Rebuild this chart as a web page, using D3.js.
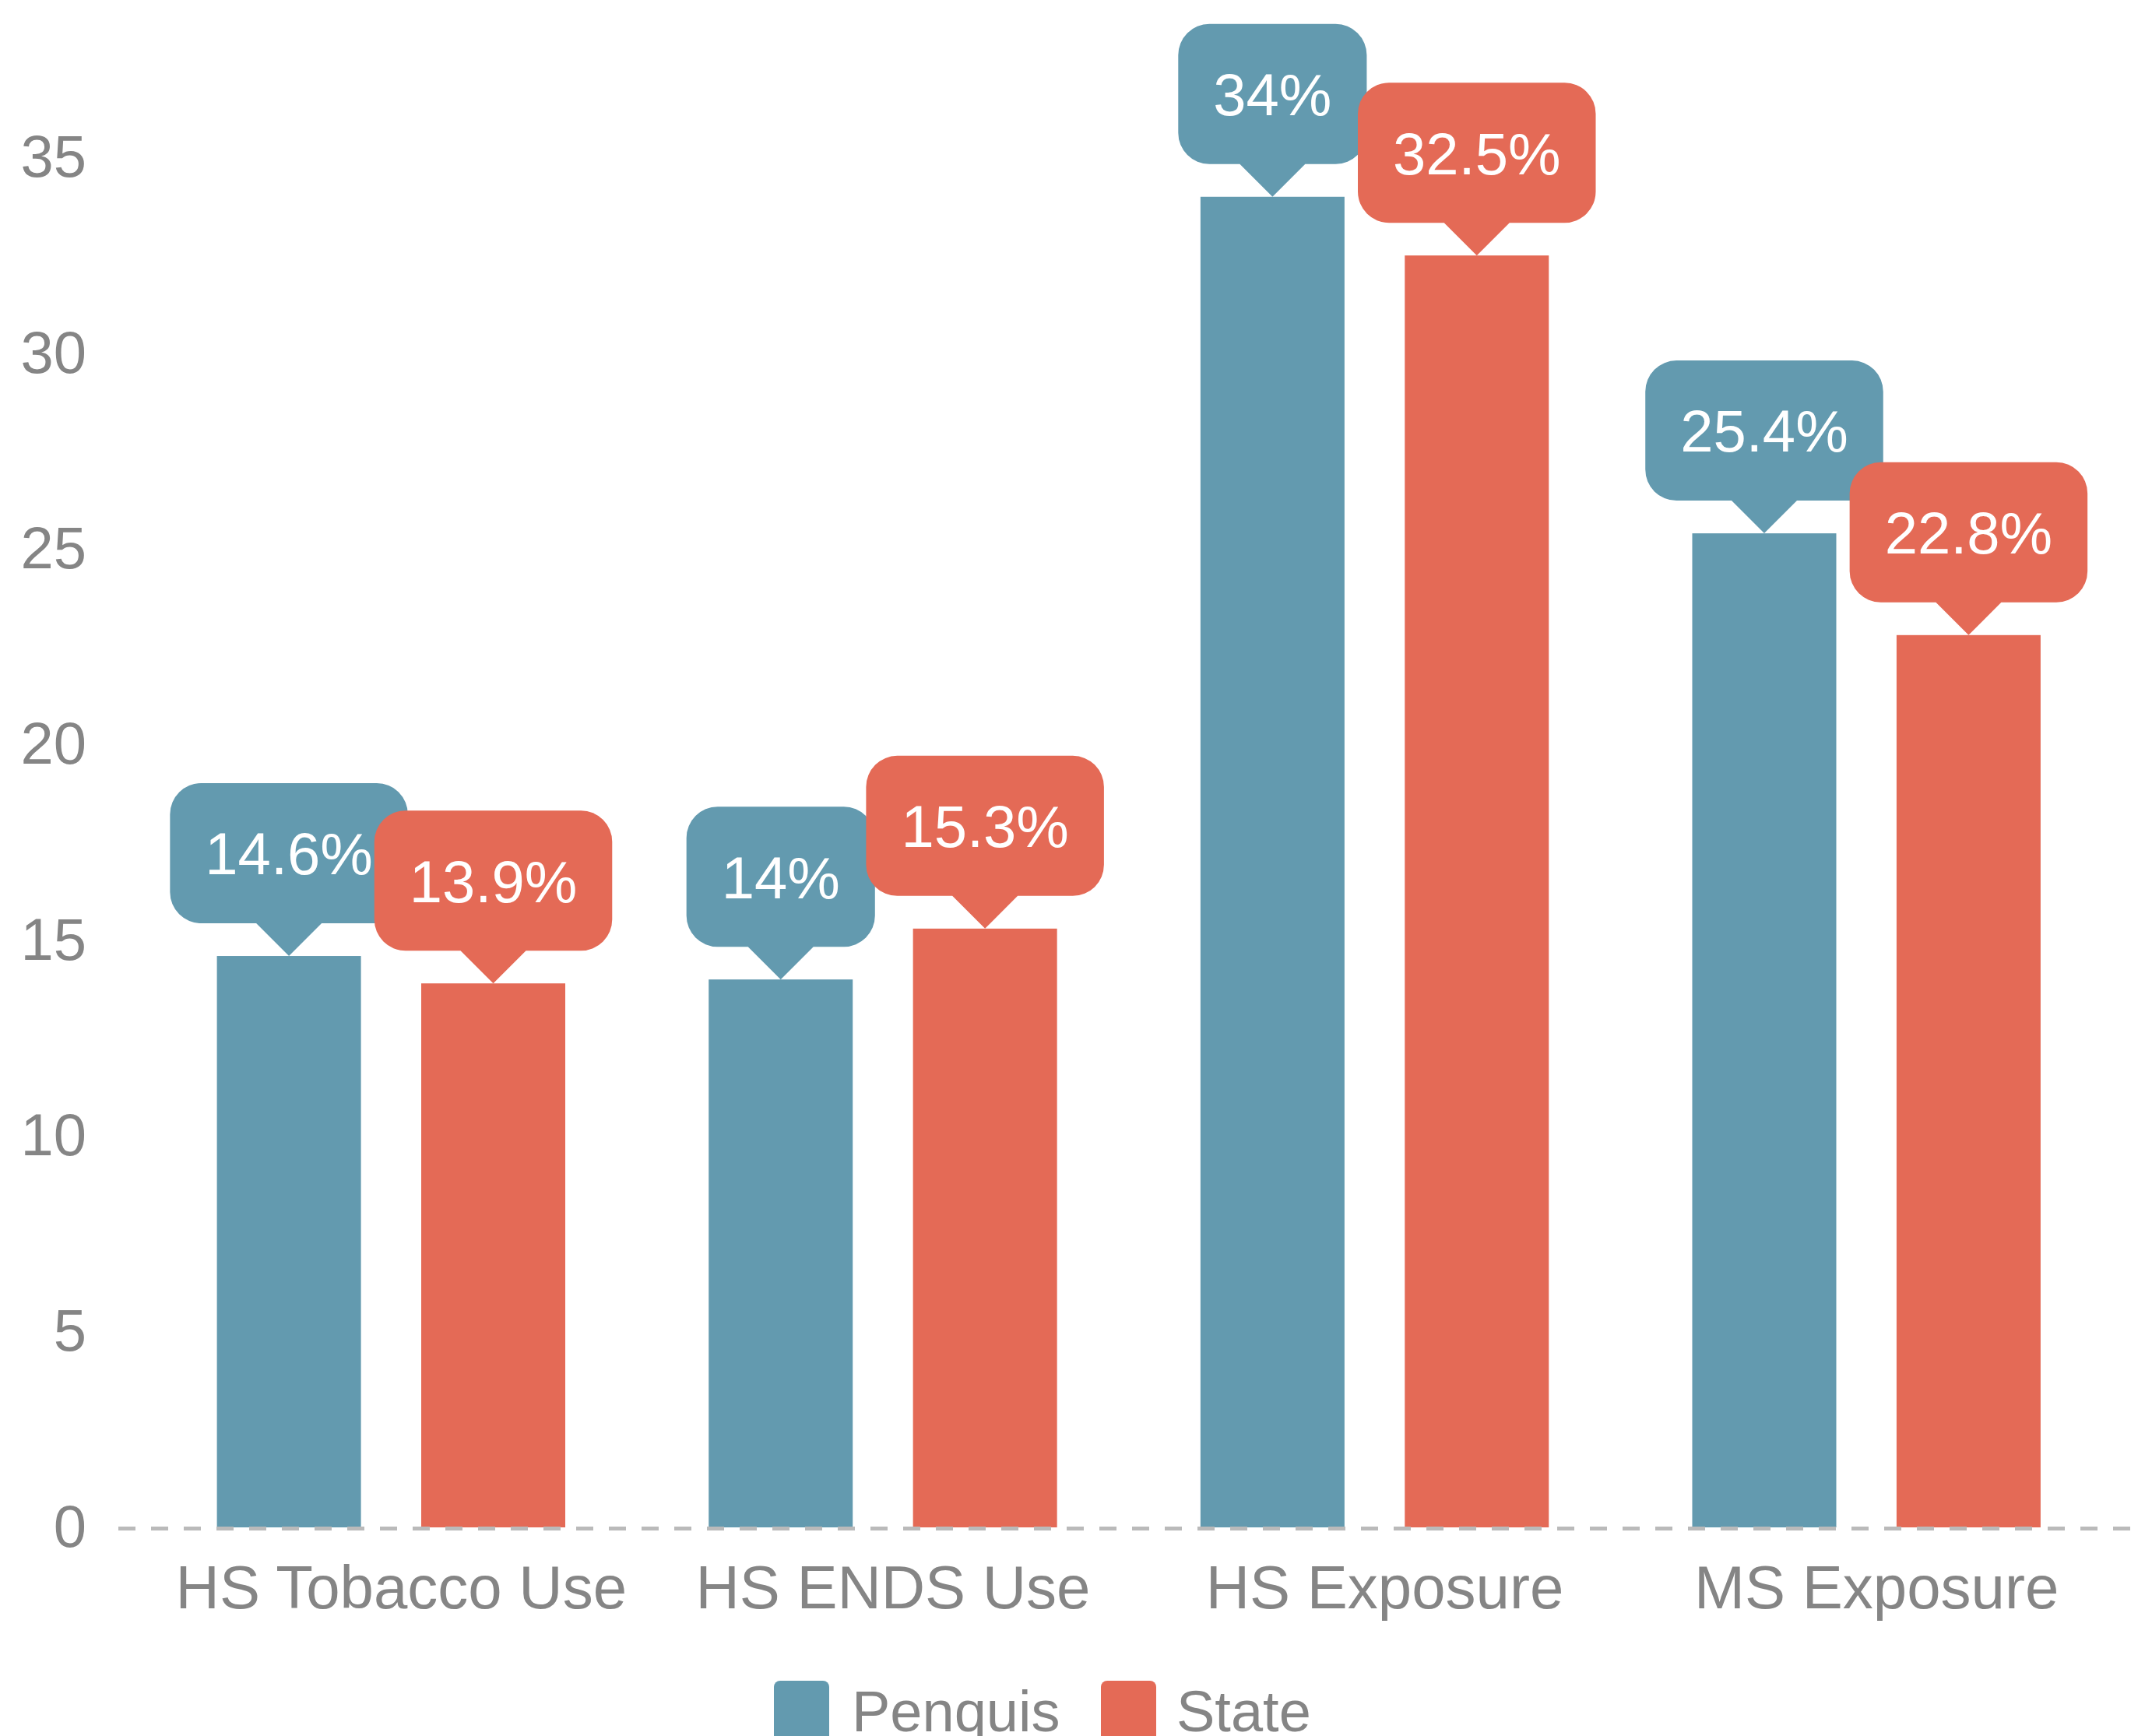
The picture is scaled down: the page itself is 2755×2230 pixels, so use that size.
<!DOCTYPE html>
<html>
<head>
<meta charset="utf-8">
<script src="https://cdn.jsdelivr.net/npm/d3@7"></script>
<style>
  body { margin: 0; background: #fff; }
  svg { display: block; font-family: "Liberation Sans", Arial, sans-serif; }
</style>
</head>
<body>
<svg width="2755" height="2230"></svg>
<script>
const CATEGORIES = ['HS Tobacco Use', 'HS ENDS Use', 'HS Exposure', 'MS Exposure'];
const SERIES = ['Penquis', 'State'];
const PENQUIS = [14.6, 14, 34, 25.4];
const STATE = [13.9, 15.3, 32.5, 22.8];
const Y_TICKS = [0, 5, 10, 15, 20, 25, 30, 35];

const COLORS = { Penquis: '#639aaf', State: '#e46a56' };
const VALUES = { Penquis: PENQUIS, State: STATE };

const svg = d3.select('svg');

const x0 = d3.scaleBand()
    .domain(CATEGORIES)
    .range([186.5, 2713])
    .padding(0);

const x1 = d3.scaleBand()
    .domain(SERIES)
    .range([0, x0.bandwidth()])
    .paddingInner(0.295)
    .paddingOuter(0.351);

const y = d3.scaleLinear()
    .domain([0, 35])
    .range([1962, 202.5]);

// y axis labels
const yAxis = svg.append('g')
    .attr('transform', 'translate(111,0)')
    .call(d3.axisLeft(y).tickValues(Y_TICKS).tickSize(0).tickPadding(0));
yAxis.select('.domain').remove();
yAxis.selectAll('text')
    .attr('fill', '#858585')
    .style('font-size', '76px')
    .style('font-family', '"Liberation Sans", Arial, sans-serif');

// flatten data
const rows = [];
SERIES.forEach(s => {
    CATEGORIES.forEach((c, i) => rows.push({ series: s, cat: c, value: VALUES[s][i] }));
});

// bars
svg.append('g')
    .selectAll('rect')
    .data(rows)
    .enter()
    .append('rect')
    .attr('x', d => x0(d.cat) + x1(d.series))
    .attr('y', d => y(d.value))
    .attr('width', x1.bandwidth())
    .attr('height', d => y(0) - y(d.value))
    .attr('fill', d => COLORS[d.series]);

// dashed zero line
svg.append('line')
    .attr('x1', 152)
    .attr('x2', 2755)
    .attr('y1', y(0) + 1.5)
    .attr('y2', y(0) + 1.5)
    .attr('stroke', '#bababa')
    .attr('stroke-width', 5)
    .attr('stroke-dasharray', '22,20');

// category labels
svg.append('g')
    .selectAll('text')
    .data(CATEGORIES)
    .enter()
    .append('text')
    .attr('x', d => x0(d) + x0.bandwidth() / 2 + 13)
    .attr('y', 2066)
    .attr('text-anchor', 'middle')
    .attr('fill', '#858585')
    .style('font-size', '78px')
    .text(d => d);

// callout bubbles
function bubblePath(cx, tipY, w) {
    const h = 180, r = 40, pw = 84, ph = 42;
    const top = tipY - ph - h;
    const l = cx - w / 2, rr = cx + w / 2, b = top + h;
    return `M${l + r},${top}H${rr - r}A${r},${r} 0 0 1 ${rr},${top + r}` +
        `V${b - r}A${r},${r} 0 0 1 ${rr - r},${b}H${cx + pw / 2}L${cx},${tipY}` +
        `L${cx - pw / 2},${b}H${l + r}A${r},${r} 0 0 1 ${l},${b - r}` +
        `V${top + r}A${r},${r} 0 0 1 ${l + r},${top}Z`;
}

const bubbles = svg.append('g')
    .selectAll('g')
    .data(rows)
    .enter()
    .append('g');

bubbles.append('path')
    .attr('fill', d => COLORS[d.series]);

bubbles.append('text')
    .attr('x', d => x0(d.cat) + x1(d.series) + x1.bandwidth() / 2)
    .attr('y', d => y(d.value) - 42 - 90)
    .attr('dy', '0.36em')
    .attr('text-anchor', 'middle')
    .attr('fill', '#fff')
    .style('font-size', '76px')
    .text(d => d.value + '%');

bubbles.each(function (d) {
    const g = d3.select(this);
    const tw = g.select('text').node().getComputedTextLength();
    const cx = x0(d.cat) + x1(d.series) + x1.bandwidth() / 2;
    g.select('path').attr('d', bubblePath(cx, y(d.value), tw + 90));
});

// legend
const legendPos = [
    { name: 'Penquis', x: 994, tx: 1094 },
    { name: 'State', x: 1414, tx: 1511 }
];
const legend = svg.append('g')
    .selectAll('g')
    .data(legendPos)
    .enter()
    .append('g');
legend.append('rect')
    .attr('x', d => d.x)
    .attr('y', 2159)
    .attr('width', 71)
    .attr('height', 90)
    .attr('rx', 8)
    .attr('fill', d => COLORS[d.name]);
legend.append('text')
    .attr('x', d => d.tx)
    .attr('y', 2224)
    .attr('fill', '#858585')
    .style('font-size', '74px')
    .text(d => d.name);
</script>
</body>
</html>
